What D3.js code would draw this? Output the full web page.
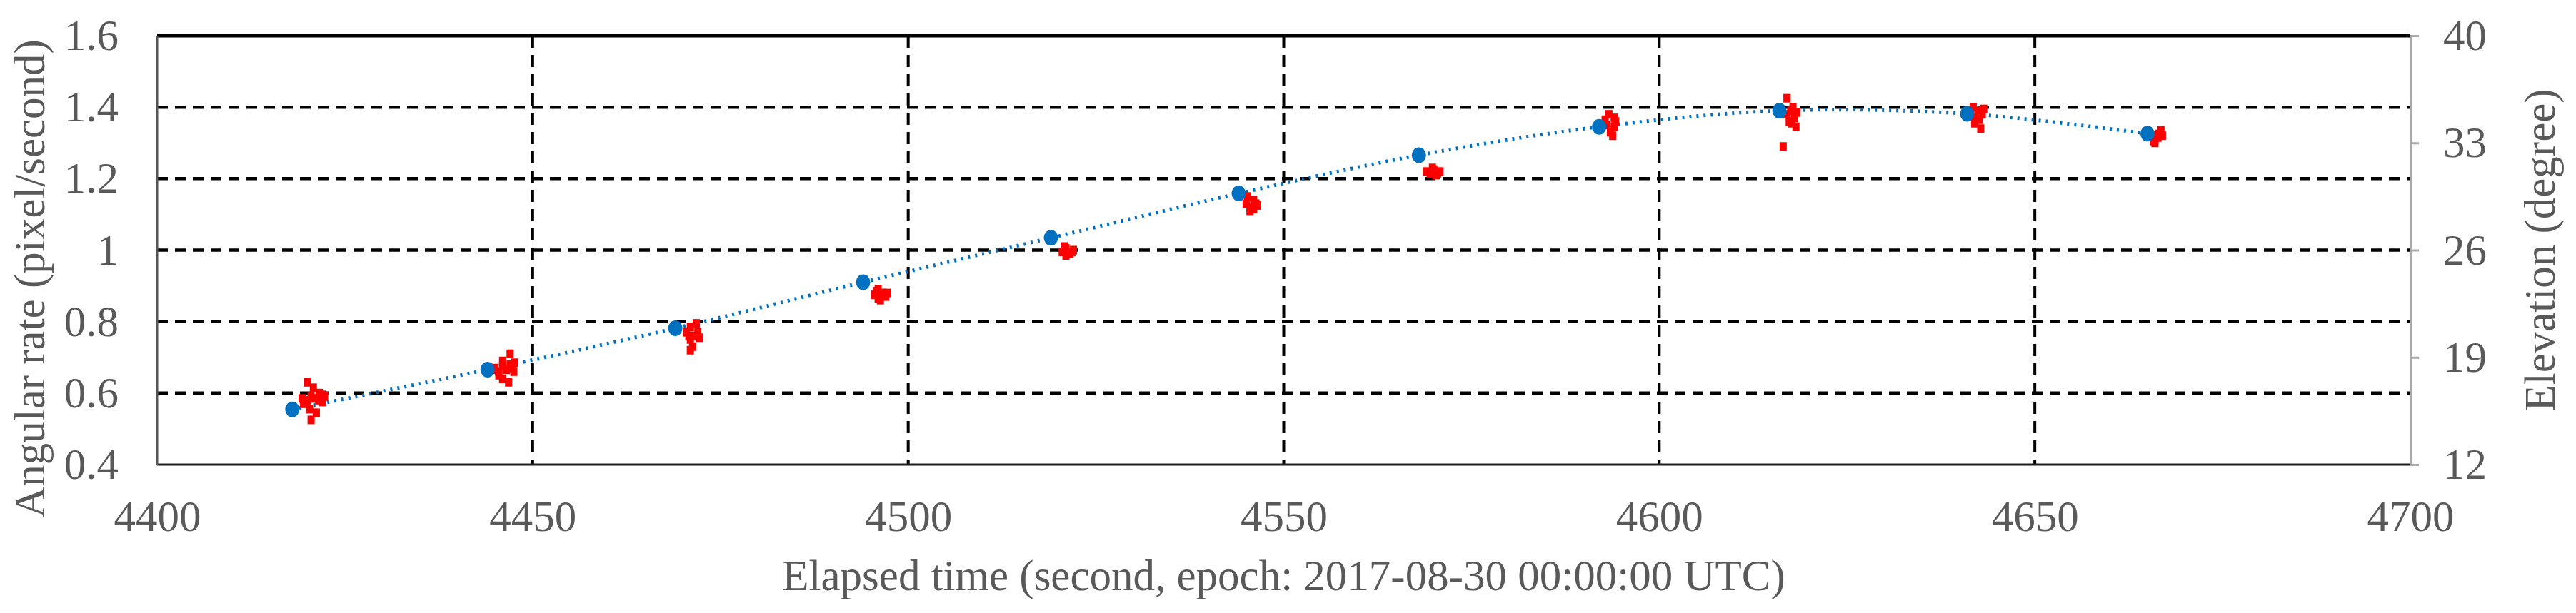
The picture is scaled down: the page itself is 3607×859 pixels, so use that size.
<!DOCTYPE html>
<html><head><meta charset="utf-8">
<script src="https://cdn.jsdelivr.net/npm/d3@7"></script>
<style>html,body{margin:0;padding:0;background:#fff;}</style>
</head><body>
<svg id="c" width="3607" height="859"></svg>
<script>
// ---- data ----
const xTicks = [4400, 4450, 4500, 4550, 4600, 4650, 4700];
const leftTicks = [0.4, 0.6, 0.8, 1.0, 1.2, 1.4, 1.6];
const leftTickLabels = ["0.4", "0.6", "0.8", "1", "1.2", "1.4", "1.6"];
const rightTicks = [12, 19, 26, 33, 40];
// elevation (degree), blue points
const elevTime = [4418, 4444, 4469, 4494, 4519, 4544, 4568, 4592, 4616, 4641, 4665];
const elevValue = [15.6, 18.2, 20.9, 23.9, 26.8, 29.7, 32.2, 34.05, 35.1, 34.9, 33.6];
// measured angular rate (pixel/second), red points, as [time, rate]
const rateCluster1 = [[4419.5,0.57],[4420,0.58],[4420.5,0.59],[4421,0.585],[4421.5,0.58],[4422,0.595],[4420,0.63],[4420.8,0.615],[4420.3,0.555],[4421.2,0.545],[4420.5,0.525],[4419.8,0.575],[4422,0.575],[4421.6,0.6],[4419.3,0.585],[4422.3,0.59]];
const rateCluster2 = [[4445,0.67],[4445.5,0.66],[4446,0.675],[4446.5,0.665],[4447,0.68],[4447.5,0.66],[4446,0.69],[4447,0.71],[4446,0.64],[4446.8,0.63],[4445.5,0.65],[4447.4,0.67],[4444.8,0.665],[4447.6,0.685]];
const rateCluster3 = [[4470.5,0.77],[4471,0.785],[4471.5,0.76],[4471,0.75],[4472,0.77],[4471.3,0.73],[4471,0.72],[4471.8,0.795],[4470.8,0.76],[4472.2,0.755]];
const rateCluster4 = [[4495.5,0.875],[4496,0.865],[4496.5,0.88],[4496,0.89],[4497,0.87],[4496.3,0.86],[4495.8,0.885],[4497.2,0.88]];
const rateCluster5 = [[4520.5,0.995],[4521,1.005],[4521.5,0.99],[4521,0.985],[4522,1.0],[4520.8,1.01],[4521.8,0.995]];
const rateCluster6 = [[4545,1.13],[4545.5,1.12],[4546,1.14],[4545.5,1.11],[4546.3,1.13],[4545.2,1.15],[4546,1.115],[4546.5,1.125]];
const rateCluster7 = [[4569,1.22],[4569.5,1.215],[4570,1.225],[4570.5,1.215],[4569.8,1.23],[4570.3,1.21],[4570.8,1.22]];
const rateCluster8 = [[4593,1.35],[4593.5,1.33],[4594,1.345],[4593.3,1.38],[4594.2,1.36],[4593.8,1.32],[4594,1.37],[4593.5,1.335],[4592.8,1.365]];
const rateCluster9 = [[4617,1.38],[4617.5,1.39],[4618,1.37],[4617.3,1.36],[4618.2,1.345],[4617.8,1.4],[4617,1.425],[4616.5,1.29],[4617.6,1.355],[4618.3,1.385]];
const rateCluster10 = [[4641.5,1.385],[4642,1.37],[4642.5,1.39],[4642,1.355],[4643,1.38],[4642.8,1.34],[4641.8,1.4],[4642.6,1.365],[4643.2,1.395]];
const rateCluster11 = [[4665.5,1.32],[4666,1.31],[4666.5,1.325],[4666,1.30],[4666.8,1.335],[4665.8,1.305],[4666.4,1.315],[4667,1.32]];
const rateClusters = [rateCluster1, rateCluster2, rateCluster3, rateCluster4, rateCluster5, rateCluster6, rateCluster7, rateCluster8, rateCluster9, rateCluster10, rateCluster11];

// ---- layout ----
const L = 220, R = 3375, T = 50, B = 651;
const svg = d3.select("#c");
const x = d3.scaleLinear().domain([4400, 4700]).range([L, R]);
const yL = d3.scaleLinear().domain([0.4, 1.6]).range([B, T]);
const yR = d3.scaleLinear().domain([12, 40]).range([B, T]);
const font = "'Liberation Serif','Times New Roman',serif";
const grey = "#595959";
const fs = 61;

// grid
svg.append("g").selectAll("line").data(leftTicks.filter(v => v > 0.45 && v < 1.55)).join("line")
  .attr("x1", L).attr("x2", R).attr("y1", d => yL(d)).attr("y2", d => yL(d))
  .attr("stroke", "#000").attr("stroke-width", 4.5).attr("stroke-dasharray", "15,10");
svg.append("g").selectAll("line").data(xTicks.filter(v => v > 4400 && v < 4700)).join("line")
  .attr("x1", d => x(d)).attr("x2", d => x(d)).attr("y1", T).attr("y2", B)
  .attr("stroke", "#000").attr("stroke-width", 4).attr("stroke-dasharray", "17,10");

// frame
svg.append("line").attr("x1", L).attr("x2", R).attr("y1", T).attr("y2", T).attr("stroke", "#000").attr("stroke-width", 5);
svg.append("line").attr("x1", L).attr("x2", R).attr("y1", B).attr("y2", B).attr("stroke", "#222").attr("stroke-width", 3);
svg.append("line").attr("x1", L).attr("x2", L).attr("y1", T).attr("y2", B).attr("stroke", "#555").attr("stroke-width", 3);

// axes
const gx = svg.append("g").attr("transform", `translate(0,${B})`)
  .call(d3.axisBottom(x).tickValues(xTicks).tickSize(0).tickPadding(50).tickFormat(d3.format("d")));
gx.select(".domain").remove();
const gl = svg.append("g").attr("transform", `translate(${L},0)`)
  .call(d3.axisLeft(yL).tickValues(leftTicks).tickSize(0).tickPadding(54).tickFormat((d, i) => leftTickLabels[i]));
gl.select(".domain").remove();
const gr = svg.append("g").attr("transform", `translate(${R},0)`)
  .call(d3.axisRight(yR).tickValues(rightTicks).tickSize(12).tickPadding(34).tickFormat(d3.format("d")));
gr.select(".domain").attr("stroke", "#aaa").attr("stroke-width", 3);
gr.selectAll(".tick line").attr("stroke", "#aaa").attr("stroke-width", 3);
svg.selectAll(".tick text").attr("font-family", font).attr("font-size", fs).attr("fill", grey);
gx.selectAll(".tick text").attr("dy", "0.35em").attr("y", 72);

// titles
svg.append("text").attr("x", (L + R) / 2).attr("y", 827).attr("text-anchor", "middle")
  .attr("font-family", font).attr("font-size", fs).attr("fill", grey)
  .text("Elapsed time (second, epoch: 2017-08-30 00:00:00 UTC)");
svg.append("text").attr("transform", `translate(62,${(T + B) / 2 + 40}) rotate(-90)`).attr("text-anchor", "middle")
  .attr("font-family", font).attr("font-size", fs).attr("fill", grey)
  .text("Angular rate (pixel/second)");
svg.append("text").attr("transform", `translate(3577,${(T + B) / 2}) rotate(-90)`).attr("text-anchor", "middle")
  .attr("font-family", font).attr("font-size", fs).attr("fill", grey)
  .text("Elevation (degree)");

// blue dotted curve
const elev = elevTime.map((t, i) => [t, elevValue[i]]);
svg.append("path").datum(elev)
  .attr("d", d3.line().x(d => x(d[0])).y(d => yR(d[1])).curve(d3.curveCatmullRom))
  .attr("fill", "none").attr("stroke", "#0070C0").attr("stroke-width", 5)
  .attr("stroke-dasharray", "3,7").attr("stroke-linecap", "butt");

// red measured points
svg.append("g").selectAll("rect").data(rateClusters.flat()).join("rect")
  .attr("x", d => x(d[0]) - 5).attr("y", d => yL(d[1]) - 6).attr("width", 10).attr("height", 12)
  .attr("fill", "#FF0000");

// blue points
svg.append("g").selectAll("ellipse").data(elev).join("ellipse")
  .attr("cx", d => x(d[0])).attr("cy", d => yR(d[1])).attr("rx", 10).attr("ry", 11)
  .attr("fill", "#0070C0");
</script>
</body></html>
